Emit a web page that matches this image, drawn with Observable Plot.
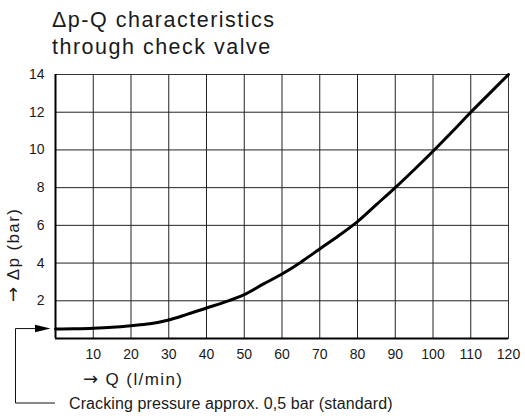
<!DOCTYPE html>
<html><head><meta charset="utf-8">
<script src="https://cdn.jsdelivr.net/npm/d3@7"></script>
<script src="https://cdn.jsdelivr.net/npm/@observablehq/plot@0.6"></script>
<style>
body{margin:0;background:#fff;font-family:"Liberation Sans",Arial,sans-serif;color:#1a1a1a;}
#title{padding:7px 0 0 52px;font-size:21.5px;line-height:26.6px;letter-spacing:1.5px;height:55px;box-sizing:content-box;white-space:nowrap;}
</style></head><body>
<div id="title">Δp-Q characteristics<br>through check valve</div>
<div id="chart"></div>
<script>
// Flow rate Q (l/min)
const Q  = [0, 5, 10, 15, 20, 25, 30, 35, 40, 45, 50, 55, 60, 65, 70, 75, 80, 85, 90, 95, 100, 105, 110, 115, 120];
// Pressure drop Δp (bar)
const dp = [0.5, 0.52, 0.55, 0.6, 0.68, 0.78, 0.98, 1.29, 1.62, 1.94, 2.33, 2.88, 3.42, 4.05, 4.75, 5.45, 6.2, 7.1, 8.0, 8.95, 9.93, 10.95, 12.0, 13.0, 14.0];
const xTicks = [10, 20, 30, 40, 50, 60, 70, 80, 90, 100, 110, 120];
const yTicks = [2, 4, 6, 8, 10, 12, 14];
const xGrid = [10, 20, 30, 40, 50, 60, 70, 80, 90, 100, 110];
const yGrid = [2, 4, 6, 8, 10, 12];
const crackingPressure = 0.5;
const arrow = "→";
const xLabel = "Q (l/min)";
const yLabel = "Δp (bar)";
const caption = "Cracking pressure approx. 0,5 bar (standard)";

const data = Q.map((q, i) => ({q, dp: dp[i]}));

const chart = Plot.plot({
  width: 525, height: 356,
  marginTop: 12, marginLeft: 55, marginRight: 17, marginBottom: 80,
  x: {domain: [0, 120]},
  y: {domain: [0, 14]},
  style: {fontFamily: "Liberation Sans, Arial, sans-serif", fontSize: "14px", color: "#1a1a1a", background: "#fff"},
  marks: [
    Plot.gridX(xGrid, {stroke: "#222", strokeOpacity: 1, strokeWidth: 1}),
    Plot.gridY(yGrid, {stroke: "#222", strokeOpacity: 1, strokeWidth: 1}),
    Plot.frame({stroke: "#333", strokeWidth: 1}),
    Plot.ruleX([0], {stroke: "#000", strokeWidth: 2}),
    Plot.ruleY([0], {stroke: "#000", strokeWidth: 2}),
    Plot.axisX(xTicks, {tickSize: 0, tickPadding: 11, label: null, fill: "#1a1a1a"}),
    Plot.axisY(yTicks, {tickSize: 0, tickPadding: 11, label: null, fill: "#1a1a1a"}),
    Plot.line(data, {x: "q", y: "dp", curve: "monotone-x", stroke: "#000", strokeWidth: 3})
  ]
});
document.getElementById("chart").appendChild(chart);

const svg = d3.select(chart);
const yS = chart.scale("y"), xS = chart.scale("x");
const x0 = xS.apply(0), yc = yS.apply(crackingPressure), yB = yS.apply(0);

function label(sel, text) {
  sel.attr("text-anchor", "start").attr("font-size", 17).attr("letter-spacing", 1.4).attr("fill", "#1a1a1a");
  sel.append("tspan").attr("font-family", "DejaVu Sans").attr("font-size", 18).text(arrow);
  sel.append("tspan").text(" " + text);
}
// x axis label
label(svg.append("text").attr("x", x0 + 28).attr("y", yB + 47), xLabel);
// y axis label (rotated)
label(svg.append("text").attr("transform", `translate(${x0 - 36},${yB - 36}) rotate(-90)`), yLabel);

// leader for cracking pressure
const lx = x0 - 39.5, ly = yB + 65;
svg.append("path").attr("d", `M${x0 - 20},${yc} H${lx} V${ly} H${x0}`)
  .attr("fill", "none").attr("stroke", "#111").attr("stroke-width", 1);
svg.append("path").attr("d", `M${x0 - 4.5},${yc} L${x0 - 20},${yc - 3.8} L${x0 - 20},${yc + 3.8} Z`)
  .attr("fill", "#000");
svg.append("text").attr("x", x0 + 14).attr("y", ly + 6).attr("text-anchor", "start")
  .attr("font-size", 16).attr("letter-spacing", 0.1).attr("fill", "#1a1a1a").text(caption);
</script>
</body></html>
